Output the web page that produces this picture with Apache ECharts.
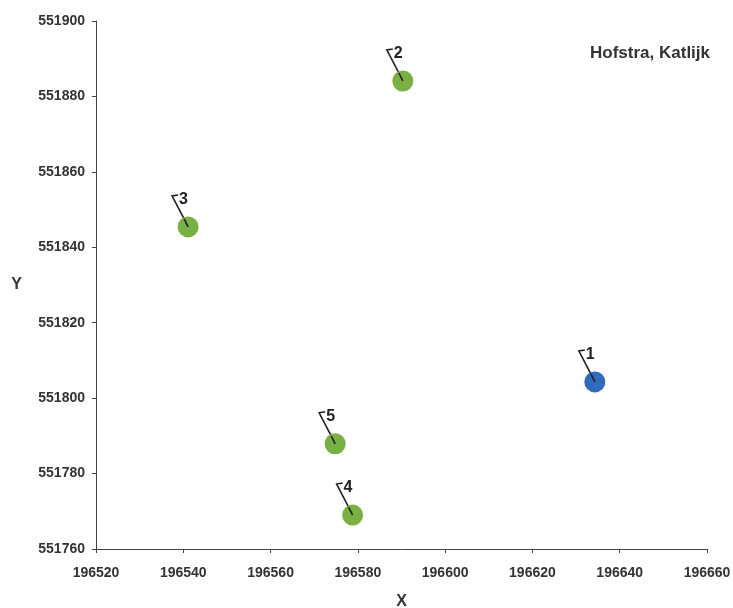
<!DOCTYPE html>
<html><head><meta charset="utf-8">
<script src="https://cdn.jsdelivr.net/npm/echarts@6/dist/echarts.min.js"></script>
<style>html,body{margin:0;padding:0;background:#fff}#c{width:733px;height:608px}</style>
</head><body><div id="c"></div>
<script>
const pointIds = ['1', '2', '3', '4', '5'];
const pointX = [196634.3, 196590.3, 196541.1, 196578.8, 196574.8];
const pointY = [551804.3, 551884.1, 551845.4, 551769.0, 551787.9];
const pointGroup = ['blue', 'green', 'green', 'green', 'green'];
const xTicks = [196520, 196540, 196560, 196580, 196600, 196620, 196640, 196660];
const yTicks = [551760, 551780, 551800, 551820, 551840, 551860, 551880, 551900];
const titleText = 'Hofstra, Katlijk';

const blueData = [], greenData = [], allData = [];
pointIds.forEach((id, i) => {
  const d = [pointX[i], pointY[i], id];
  allData.push(d);
  (pointGroup[i] === 'blue' ? blueData : greenData).push(d);
});
const font = 'Liberation Sans, Arial, sans-serif';
const chart = echarts.init(document.getElementById('c'), null, {renderer: 'canvas'});
chart.setOption({
  animation: false,
  backgroundColor: '#fff',
  title: {text: titleText, right: 18, top: 40,
    textStyle: {fontFamily: font, fontWeight: 'bold', fontSize: 17, color: '#333'}},
  grid: {left: 96, right: 26, top: 21, bottom: 59, containLabel: false, outerBoundsMode: 'none'},
  xAxis: {type: 'value', min: xTicks[0], max: xTicks[xTicks.length - 1], interval: 20,
    name: 'X', nameLocation: 'middle', nameGap: 45,
    nameTextStyle: {fontFamily: font, fontWeight: 'bold', fontSize: 16, color: '#333'},
    axisLine: {show: true, lineStyle: {color: '#444', width: 1}},
    axisTick: {show: true, length: 4, lineStyle: {color: '#444'}},
    splitLine: {show: false},
    axisLabel: {fontFamily: font, fontWeight: 'bold', fontSize: 14, color: '#333', margin: 17,
      formatter: v => String(v)}},
  yAxis: {type: 'value', min: yTicks[0], max: yTicks[yTicks.length - 1], interval: 20,
    name: 'Y', nameLocation: 'middle', nameGap: 74, nameRotate: 0,
    nameTextStyle: {fontFamily: font, fontWeight: 'bold', fontSize: 16, color: '#333'},
    axisLine: {show: true, lineStyle: {color: '#444', width: 1}},
    axisTick: {show: true, length: 4, lineStyle: {color: '#444'}},
    splitLine: {show: false},
    axisLabel: {fontFamily: font, fontWeight: 'bold', fontSize: 14, color: '#333', margin: 11,
      formatter: v => String(v)}},
  series: [
    {type: 'custom', data: allData, z: 1,
      renderItem: (params, api) => {
        const p = api.coord([api.value(0), api.value(1)]);
        const id = allData[params.dataIndex][2];
        return {type: 'group', children: [
          {type: 'polyline', shape: {points: [[p[0] - 4, p[1] - 8], [p[0] - 16, p[1] - 31], [p[0] - 10, p[1] - 32]]},
            style: {stroke: '#222', lineWidth: 1.6, fill: null}},
          {type: 'text', style: {text: id, x: p[0] - 9, y: p[1] - 19, textVerticalAlign: 'bottom',
            font: 'bold 16px ' + font, fill: '#222'}}
        ]};
      }},
    {type: 'scatter', data: greenData, symbolSize: 21, z: 2,
      itemStyle: {color: '#79b043', opacity: 1}},
    {type: 'scatter', data: blueData, symbolSize: 21, z: 2,
      itemStyle: {color: '#2f6cbd', opacity: 1}},
    {type: 'custom', data: allData, z: 3,
      renderItem: (params, api) => {
        const p = api.coord([api.value(0), api.value(1)]);
        return {type: 'polyline', shape: {points: [[p[0], p[1]], [p[0] - 4, p[1] - 8]]},
          style: {stroke: '#222', lineWidth: 1.6, fill: null}};
      }}
  ]
});
</script></body></html>
